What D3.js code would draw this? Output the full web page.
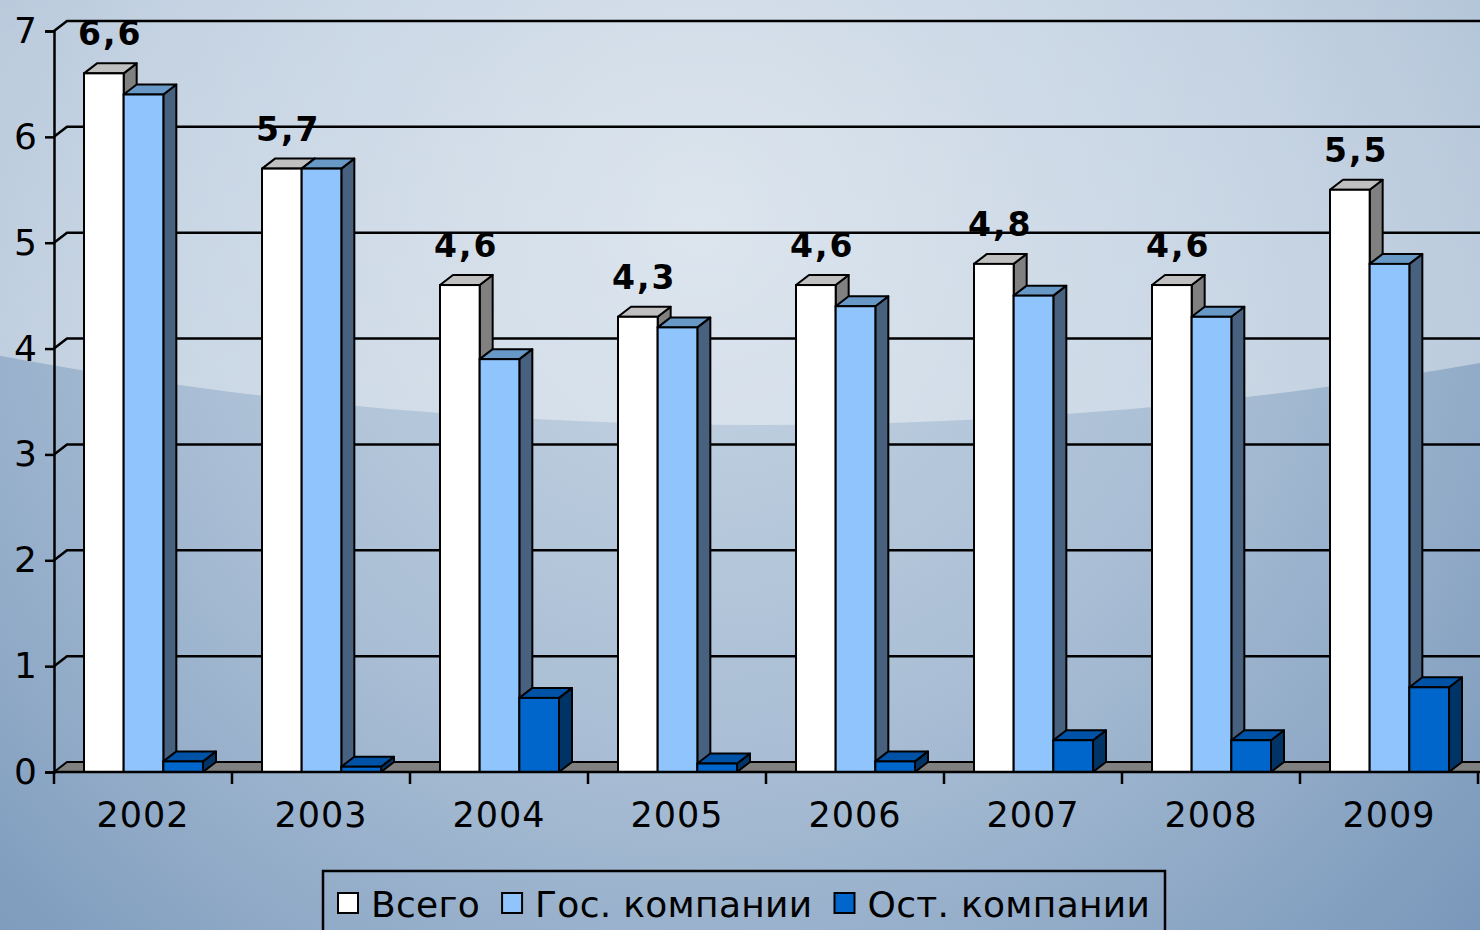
<!DOCTYPE html>
<html>
<head>
<meta charset="utf-8">
<script src="https://cdn.jsdelivr.net/npm/d3@7"></script>
<style>
  body { margin: 0; overflow: hidden; }
  svg text { font-family: "DejaVu Sans", Verdana, sans-serif; }
</style>
</head>
<body>
<div id="canvas"></div>
<script>
// data
var years = ['2002', '2003', '2004', '2005', '2006', '2007', '2008', '2009'];
var seriesNames = ['Всего', 'Гос. компании', 'Ост. компании'];
var vsego = [6.6, 5.7, 4.6, 4.3, 4.6, 4.8, 4.6, 5.5];
var gos = [6.4, 5.7, 3.9, 4.2, 4.4, 4.5, 4.3, 4.8];
var ost = [0.1, 0.05, 0.7, 0.08, 0.1, 0.3, 0.3, 0.8];
var labels = ['6,6', '5,7', '4,6', '4,3', '4,6', '4,8', '4,6', '5,5'];
var yTicks = [0, 1, 2, 3, 4, 5, 6, 7];

var W = 1480, H = 930;
var dx = 13, dy = -10; // 3d depth

var colors = [
  { front: '#ffffff', top: '#c0c0c0', side: '#808080' },
  { front: '#8fc4fc', top: '#6898c6', side: '#47617f' },
  { front: '#0066cc', top: '#0052a6', side: '#003366' }
];

var svg = d3.select('#canvas').append('svg')
  .attr('width', W)
  .attr('height', H);

// background
var defs = svg.append('defs');
var rg = defs.append('radialGradient').attr('id', 'bg')
  .attr('gradientUnits', 'userSpaceOnUse')
  .attr('cx', 700).attr('cy', 220).attr('r', 1100);
rg.append('stop').attr('offset', 0).attr('stop-color', '#c8d6e4');
rg.append('stop').attr('offset', 0.5).attr('stop-color', '#a8bdd4');
rg.append('stop').attr('offset', 1).attr('stop-color', '#7594b8');

var lg = defs.append('linearGradient').attr('id', 'hl')
  .attr('x1', 0).attr('y1', 0).attr('x2', 0).attr('y2', 1);
lg.append('stop').attr('offset', 0).attr('stop-color', '#ffffff').attr('stop-opacity', 0.05);
lg.append('stop').attr('offset', 1).attr('stop-color', '#ffffff').attr('stop-opacity', 0.4);

svg.append('rect').attr('width', W).attr('height', H).attr('fill', 'url(#bg)');
svg.append('ellipse')
  .attr('cx', 760).attr('cy', -700).attr('rx', 2200).attr('ry', 1125)
  .attr('fill', 'url(#hl)');

// scales
var x0 = d3.scaleBand().domain(years).range([54, 1478]);
var x1 = d3.scaleBand().domain(d3.range(3)).range([30, 149]);
var y = d3.scaleLinear().domain([0, 7]).range([772, 31]);

// floor
var fx0 = x0.range()[0], fx1 = W + 20;
svg.append('path')
  .attr('d', 'M' + fx0 + ',' + y(0) + 'L' + (fx0 + dx) + ',' + (y(0) + dy) +
    'L' + fx1 + ',' + (y(0) + dy) + 'L' + fx1 + ',' + y(0) + 'Z')
  .attr('fill', '#808080')
  .attr('stroke', '#000').attr('stroke-width', 2);

// gridlines on back wall
var grid = svg.append('g');
yTicks.slice(1).forEach(function (t) {
  grid.append('path')
    .attr('d', 'M' + fx0 + ',' + y(t) + 'L' + (fx0 + dx) + ',' + (y(t) + dy) + 'L' + fx1 + ',' + (y(t) + dy))
    .attr('fill', 'none')
    .attr('stroke', '#000').attr('stroke-width', 2.5);
});

// bars
var allSeries = [vsego, gos, ost];
var bars = svg.append('g');
years.forEach(function (yr, i) {
  allSeries.forEach(function (s, k) {
    var xl = x0(yr) + x1(k), xr = xl + x1.bandwidth();
    var yt = y(s[i]), yb = y(0);
    var c = colors[k];
    bars.append('path') // side
      .attr('d', 'M' + xr + ',' + yb + 'L' + (xr + dx) + ',' + (yb + dy) + 'L' + (xr + dx) + ',' + (yt + dy) + 'L' + xr + ',' + yt + 'Z')
      .attr('fill', c.side).attr('stroke', '#000').attr('stroke-width', 2).attr('stroke-linejoin', 'round');
    bars.append('path') // top
      .attr('d', 'M' + xl + ',' + yt + 'L' + (xl + dx) + ',' + (yt + dy) + 'L' + (xr + dx) + ',' + (yt + dy) + 'L' + xr + ',' + yt + 'Z')
      .attr('fill', c.top).attr('stroke', '#000').attr('stroke-width', 2).attr('stroke-linejoin', 'round');
    bars.append('rect') // front
      .attr('x', xl).attr('y', yt)
      .attr('width', xr - xl).attr('height', yb - yt)
      .attr('fill', c.front).attr('stroke', '#000').attr('stroke-width', 2);
  });
});

// value labels
svg.append('g').selectAll('text')
  .data(vsego)
  .enter().append('text')
  .attr('x', function (d, i) { return x0(years[i]) + x1(0) + x1.bandwidth() / 2 + dx / 2; })
  .attr('y', function (d) { return y(d) - 28; })
  .attr('text-anchor', 'middle')
  .attr('font-size', 33).attr('font-weight', 'bold')
  .attr('letter-spacing', 2)
  .attr('fill', '#000')
  .text(function (d, i) { return labels[i]; });

// y axis
var yAxis = svg.append('g')
  .attr('transform', 'translate(' + fx0 + ',0)')
  .call(d3.axisLeft(y).tickValues(yTicks).tickSize(9).tickPadding(8).tickFormat(d3.format('d')));
yAxis.select('.domain').attr('stroke', '#000').attr('stroke-width', 2.5);
yAxis.selectAll('.tick line').attr('stroke', '#000').attr('stroke-width', 2.5);
yAxis.selectAll('.tick text')
  .attr('font-size', 36).attr('fill', '#000')
  .style('font-family', '"DejaVu Sans", Verdana, sans-serif');

// x axis
var xAxis = svg.append('g')
  .attr('transform', 'translate(0,' + y(0) + ')')
  .call(d3.axisBottom(x0).tickSize(0).tickPadding(30));
xAxis.select('.domain').remove();
xAxis.selectAll('.tick text')
  .attr('font-size', 35).attr('fill', '#000')
  .attr('letter-spacing', 1)
  .style('font-family', '"DejaVu Sans", Verdana, sans-serif');
svg.append('line')
  .attr('x1', fx0).attr('x2', fx1).attr('y1', y(0)).attr('y2', y(0))
  .attr('stroke', '#000').attr('stroke-width', 2.5);
svg.append('g').selectAll('line')
  .data(years.concat(['end']))
  .enter().append('line')
  .attr('x1', function (d) { return d === 'end' ? x0.range()[1] : x0(d); })
  .attr('x2', function (d) { return d === 'end' ? x0.range()[1] : x0(d); })
  .attr('y1', y(0)).attr('y2', y(0) + 12)
  .attr('stroke', '#000').attr('stroke-width', 2.5);

// legend
var legend = svg.append('g');
legend.append('rect')
  .attr('x', 323).attr('y', 871).attr('width', 842).attr('height', 80)
  .attr('fill', 'none').attr('stroke', '#000').attr('stroke-width', 2.5);
var lx = 338;
seriesNames.forEach(function (name, k) {
  legend.append('rect')
    .attr('x', lx).attr('y', 893).attr('width', 20).attr('height', 20)
    .attr('fill', colors[k].front).attr('stroke', '#000').attr('stroke-width', 2);
  var t = legend.append('text')
    .attr('x', lx + 33).attr('y', 917)
    .attr('font-size', 36).attr('letter-spacing', 0.3).attr('fill', '#000')
    .text(name);
  lx = lx + 33 + t.node().getComputedTextLength() + 22;
});
</script>
</body>
</html>
